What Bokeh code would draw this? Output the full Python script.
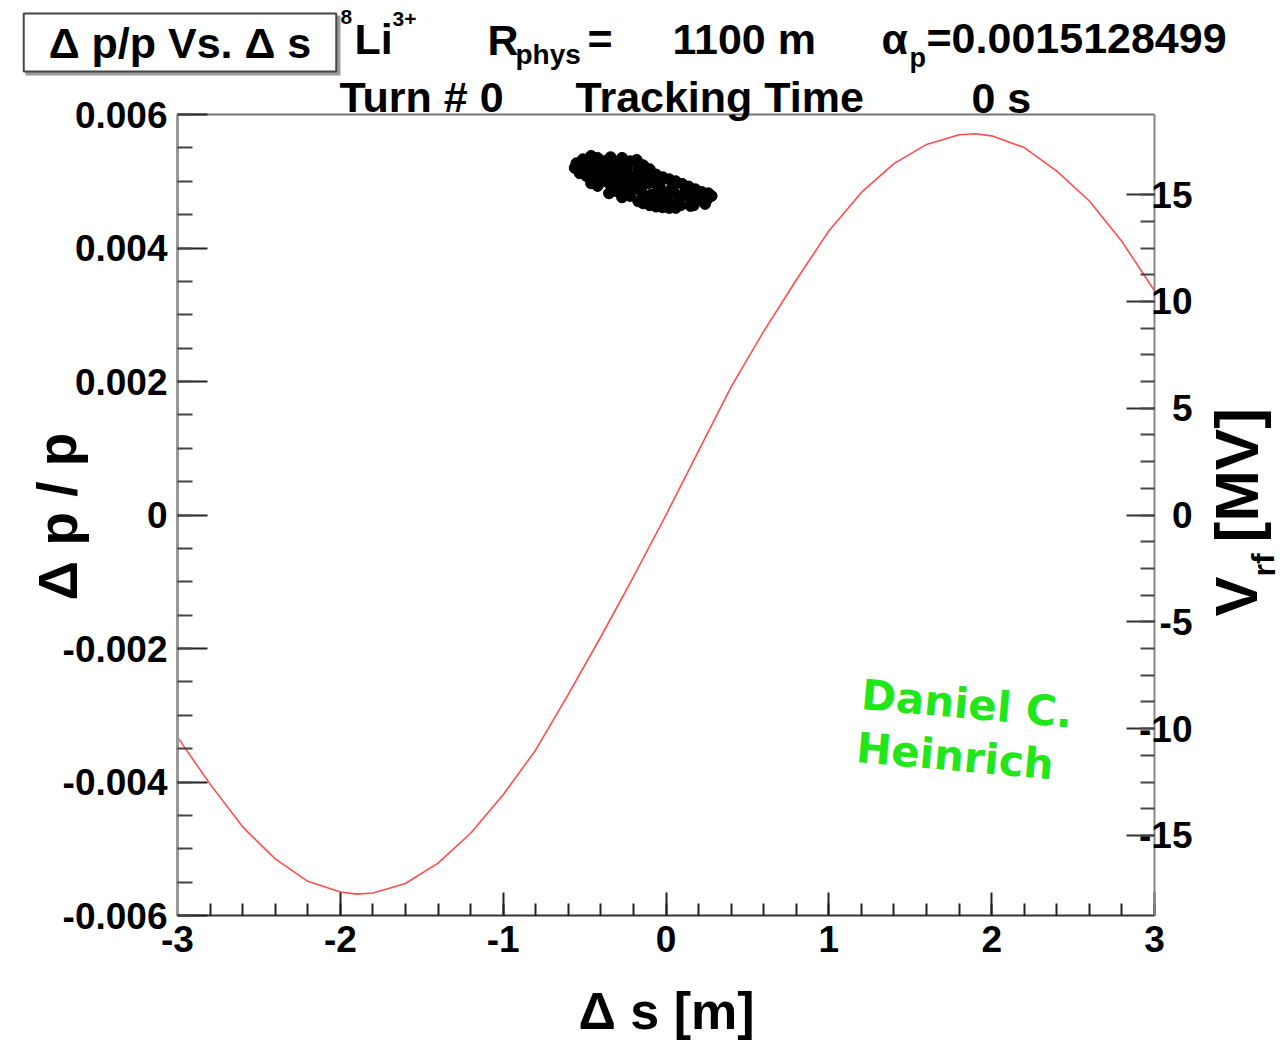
from bokeh.plotting import figure
from bokeh.models import (Range1d, LinearAxis, FixedTicker, Label, LabelSet, ColumnDataSource,
                          CustomJSTickFormatter, BoxAnnotation)
from bokeh.core.properties import value
from bokeh.embed import file_html
from bokeh.resources import INLINE

# ---------------- data ----------------
# RF voltage curve (s in m, V in MV)
rf_s = [-3.0, -2.8, -2.6, -2.4, -2.2, -2.0, -1.9, -1.8, -1.6, -1.4, -1.2, -1.0, -0.8, -0.6, -0.4,
        -0.2, 0.0, 0.2, 0.4, 0.6, 0.8, 1.0, 1.2, 1.4, 1.6, 1.8, 1.9, 2.0, 2.2, 2.4, 2.6, 2.8, 3.0]
rf_v = [-10.4, -12.6, -14.6, -16.1, -17.15, -17.65, -17.75, -17.7, -17.25, -16.3, -14.9, -13.1,
        -11.0, -8.4, -5.7, -2.9, 0.0, 3.0, 6.0, 8.6, 11.0, 13.3, 15.1, 16.45, 17.35, 17.8, 17.85,
        17.75, 17.2, 16.1, 14.7, 12.8, 10.5]

# tracked particles (delta s [m], delta p / p)
pt_s = [-0.56, -0.55, -0.51, -0.50, -0.49, -0.46, -0.47, -0.45, -0.46,
        -0.42, -0.43, -0.41, -0.42, -0.38, -0.39, -0.37, -0.34, -0.35, -0.33, -0.34, -0.35,
        -0.30, -0.31, -0.29, -0.30, -0.27, -0.26, -0.25, -0.26, -0.27, -0.22, -0.23, -0.21, -0.22,
        -0.18, -0.17, -0.19, -0.18, -0.17, -0.14, -0.13, -0.15, -0.14, -0.10, -0.11, -0.09, -0.10,
        -0.06, -0.05, -0.07, -0.06, -0.02, -0.03, -0.01, -0.02, 0.02, 0.03, 0.01, 0.02,
        0.06, 0.05, 0.07, 0.06, 0.10, 0.11, 0.09, 0.14, 0.13, 0.15, 0.18, 0.19, 0.17,
        0.22, 0.23, 0.26, 0.25, 0.28,
        -0.53, -0.44, -0.40, -0.36, -0.32, -0.28, -0.24, -0.20, -0.16, -0.12, -0.08,
        -0.04, 0.00, 0.04, 0.08, 0.12, 0.16, 0.20, 0.24, -0.48, -0.30, -0.12]
pt_dp = [0.00520, 0.00527, 0.00533, 0.00520, 0.00508, 0.00538, 0.00525, 0.00512, 0.00497,
         0.00535, 0.00522, 0.00505, 0.00493, 0.00530, 0.00516, 0.00500, 0.00536, 0.00522, 0.00509, 0.00494, 0.00482,
         0.00528, 0.00513, 0.00498, 0.00485, 0.00535, 0.00518, 0.00503, 0.00488, 0.00476, 0.00530, 0.00510, 0.00494, 0.00478,
         0.00532, 0.00518, 0.00506, 0.00490, 0.00470, 0.00524, 0.00500, 0.00484, 0.00467, 0.00518, 0.00497, 0.00480, 0.00464,
         0.00510, 0.00492, 0.00476, 0.00462, 0.00506, 0.00488, 0.00472, 0.00461, 0.00503, 0.00486, 0.00470, 0.00460,
         0.00500, 0.00483, 0.00468, 0.00460, 0.00496, 0.00480, 0.00464, 0.00492, 0.00478, 0.00463, 0.00488, 0.00474, 0.00464,
         0.00484, 0.00472, 0.00482, 0.00472, 0.00478,
         0.00512, 0.00530, 0.00528, 0.00515, 0.00530, 0.00508, 0.00520, 0.00500, 0.00512, 0.00508, 0.00500,
         0.00496, 0.00478, 0.00492, 0.00472, 0.00486, 0.00470, 0.00480, 0.00466, 0.00528, 0.00490, 0.00474]

x_major = [-3, -2, -1, 0, 1, 2, 3]
x_minor = [round(-3 + 0.2 * i, 2) for i in range(31)]
y_major = [-0.006, -0.004, -0.002, 0, 0.002, 0.004, 0.006]
y_minor = [round(-0.006 + 0.0005 * i, 4) for i in range(25)]
v_major = [-15, -10, -5, 0, 5, 10, 15]
v_minor = [-15 + 1.25 * i for i in range(25)]
v_labels = ["-15", "-10", "-5", "0", "5", "10", "15"]

FONT = "Liberation Sans"

# ---------------- geometry ----------------
W, H = 1283, 1043
FL, FR, FT, FB = 177, 1154, 114, 915          # plot box inside the canvas
X0, X1 = -3.0, 3.0
Y0, Y1 = -0.006, 0.006
V0, V1 = -18.75, 18.75
SX = (FR - FL) / (X1 - X0)
SY = (FB - FT) / (Y1 - Y0)
SV = (FB - FT) / (V1 - V0)

p = figure(width=W, height=H, output_backend="svg", toolbar_location=None,
           x_range=Range1d(X0 - FL / SX, X1 + (W - FR) / SX),
           y_range=Range1d(Y0 - (H - FB) / SY, Y1 + FT / SY),
           min_border=0)
p.extra_y_ranges = {"v": Range1d(V0 - (H - FB) / SV, V1 + FT / SV)}
p.xgrid.visible = False
p.ygrid.visible = False
p.outline_line_color = None
p.background_fill_color = "white"
p.border_fill_color = "white"

def dx(px):
    return X0 + (px - FL) / SX

def dy(py):
    return Y1 - (py - FT) / SY

fmt = CustomJSTickFormatter(code="return tick.toString()")

xa = p.xaxis[0]
xa.fixed_location = Y0
xa.bounds = (X0, X1)
xa.ticker = FixedTicker(ticks=x_major, minor_ticks=x_minor)
xa.formatter = fmt
xa.major_tick_in = 23
xa.major_tick_out = 0
xa.minor_tick_in = 12
xa.minor_tick_out = 0
xa.axis_line_color = "#333333"
xa.axis_line_width = 2
xa.major_tick_line_color = "#222222"
xa.minor_tick_line_color = "#222222"
xa.major_tick_line_width = 2
xa.minor_tick_line_width = 2
xa.major_label_text_font = FONT
xa.major_label_text_font_style = "bold"
xa.major_label_text_font_size = "37px"
xa.major_label_text_color = "black"
xa.major_label_standoff = 10

ya = p.yaxis[0]
ya.fixed_location = X0
ya.bounds = (Y0, Y1)
ya.ticker = FixedTicker(ticks=y_major, minor_ticks=y_minor)
ya.formatter = fmt
ya.major_tick_in = 30
ya.major_tick_out = 0
ya.minor_tick_in = 15
ya.minor_tick_out = 0
ya.axis_line_color = "#999999"
ya.axis_line_width = 3
ya.major_tick_line_color = "#222222"
ya.minor_tick_line_color = "#444444"
ya.major_tick_line_width = 2
ya.minor_tick_line_width = 2
ya.major_label_text_font = FONT
ya.major_label_text_font_style = "bold"
ya.major_label_text_font_size = "37px"
ya.major_label_text_color = "black"
ya.major_label_standoff = 10

ra = LinearAxis(y_range_name="v", fixed_location=X1, bounds=(V0, V1),
                ticker=FixedTicker(ticks=v_major, minor_ticks=v_minor),
                formatter=CustomJSTickFormatter(code="return ''"))
ra.major_tick_in = 28
ra.major_tick_out = 0
ra.minor_tick_in = 14
ra.minor_tick_out = 0
ra.axis_line_color = "#888888"
ra.axis_line_width = 2
ra.major_tick_line_color = "#333333"
ra.minor_tick_line_color = "#444444"
ra.major_tick_line_width = 2
ra.minor_tick_line_width = 2
p.add_layout(ra, "right")

ta = LinearAxis(fixed_location=Y1, bounds=(X0, X1), ticker=FixedTicker(ticks=[]),
                axis_line_color="#777777", axis_line_width=2)
ta.major_tick_line_color = None
ta.minor_tick_line_color = None
p.add_layout(ta, "above")

# right axis tick labels, right-aligned like the reference
vsrc = ColumnDataSource(dict(x=[X1] * len(v_major), y=v_major, t=v_labels))
p.add_layout(LabelSet(x="x", y="y", text="t", source=vsrc, y_range_name="v",
                      x_offset=38, text_align="right", text_baseline="middle",
                      text_font=value(FONT), text_font_style="bold", text_font_size="37px",
                      text_color="black"))

# ---------------- data marks ----------------
p.line(rf_s, rf_v, y_range_name="v", line_color="#ff4d4d", line_width=1.6)
p.scatter(pt_s, pt_dp, size=11, marker="circle", fill_color="black", line_color="black")

# ---------------- texts ----------------
def lab(px, py, text, size, **kw):
    opts = dict(text_font=FONT, text_font_style="bold", text_font_size=f"{size}px",
                text_color="black", text_baseline="middle", text_align="left")
    opts.update(kw)
    p.add_layout(Label(x=dx(px), y=dy(py), text=text, **opts))

# title box with its drop shadow
p.add_layout(BoxAnnotation(left=dx(25), right=dx(340), top=dy(15), bottom=dy(75),
                           fill_color="#9a9a9a", fill_alpha=1.0, line_color=None))
p.add_layout(Label(x=dx(179.5), y=dy(42), text="\u0394 p/p Vs. \u0394 s", text_font=FONT,
                   text_font_style="bold", text_font_size="43px", text_color="black",
                   text_align="center", text_baseline="middle",
                   border_line_color="#444444", border_line_width=2,
                   background_fill_color="white",
                   padding=dict(left=25, right=25, top=5, bottom=5)))

# first info line
lab(340, 16, "8", 21)
lab(354, 38, "Li", 43)
lab(392, 18, "3+", 21)
lab(487, 39, "R", 43)
lab(515, 54, "phys", 28)
lab(587, 38, "=", 43)
lab(672, 38, "1100 m", 43)
lab(881, 38, "\u03b1", 43)
lab(909, 57, "p", 27)
lab(926, 37, "=0.0015128499", 43)

# second info line
lab(339, 96, "Turn # 0", 43)
lab(575, 96, "Tracking Time", 43)
lab(971, 97, "0 s", 43)

# axis titles
lab(57, 516, "\u0394 p / p", 55, text_align="center", angle=1.5708)
lab(666, 1010, "\u0394 s [m]", 52, text_align="center")
lab(1236, 616, "V", 60, angle=1.5708)
lab(1263, 576, "rf", 32, angle=1.5708)
lab(1236, 542, "[MV]", 62, angle=1.5708)

# watermark
lab(861, 694, "Daniel C.", 42, text_font="DejaVu Sans", text_color="#22e61a", angle=-0.088)
lab(856, 747, "Heinrich", 42, text_font="DejaVu Sans", text_color="#22e61a", angle=-0.088)

open("out.html", "w").write(file_html(p, INLINE))
